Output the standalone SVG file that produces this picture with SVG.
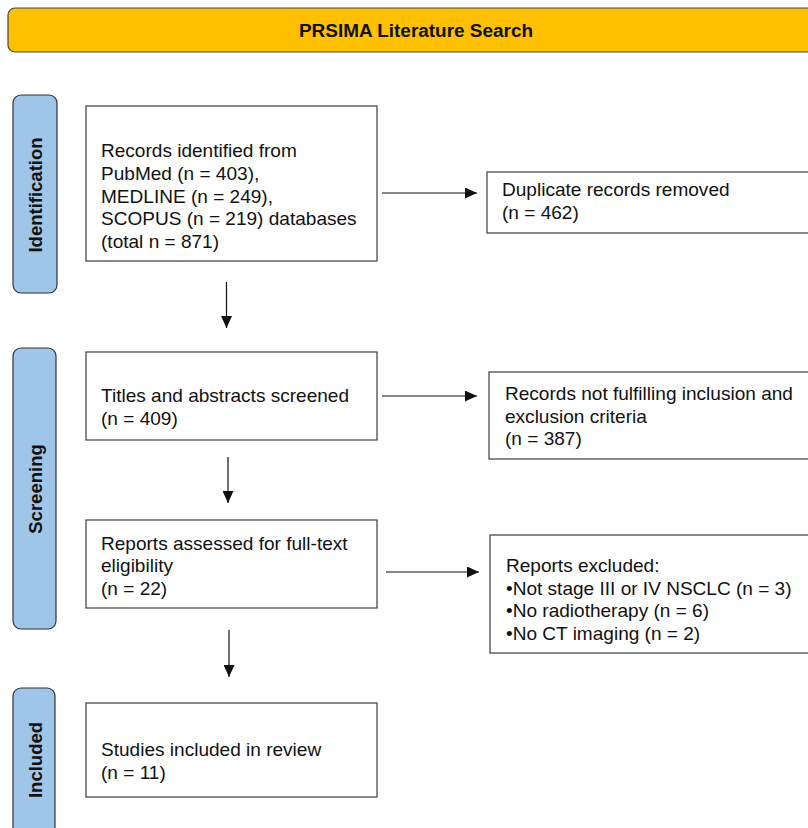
<svg xmlns="http://www.w3.org/2000/svg" width="808" height="828" viewBox="0 0 808 828">
<defs>
<style>
.box{fill:#ffffff;stroke:#4a4a4a;stroke-width:1.3}
.side{fill:#9fc5e8;stroke:#333333;stroke-width:1.2}
.t{font-family:"Liberation Sans",Arial,sans-serif;font-size:17.7px;fill:#111111}
.tt{font-family:"Liberation Sans",Arial,sans-serif;font-size:18.5px;font-weight:bold;fill:#111111;text-anchor:middle}
.sl{font-family:"Liberation Sans",Arial,sans-serif;font-size:18.5px;font-weight:bold;fill:#111111;text-anchor:middle}
.conn{stroke:#111111;stroke-width:1.2;fill:none}
</style>
<marker id="ah" markerUnits="userSpaceOnUse" viewBox="0 0 12 11" refX="12" refY="5.5" markerWidth="12" markerHeight="11" orient="auto">
<path d="M0,0 L12,5.5 L0,11 Z" fill="#111111"/>
</marker>
</defs>
<rect width="808" height="828" fill="#ffffff"/>

<g id="title">
<rect x="8" y="8" width="830" height="44" rx="7" fill="#ffc000" stroke="#444444" stroke-width="1.2"/>
<text class="tt" transform="translate(416 0) scale(1.025 1)" x="0" y="36.7">PRSIMA Literature Search</text>
</g>

<g id="phase-identification">
<rect class="side" x="13" y="95" width="44" height="198" rx="8"/>
<text class="sl" transform="translate(42 195) rotate(-90)" x="0" y="0">Identification</text>
</g>
<g id="phase-screening">
<rect class="side" x="13" y="348" width="43" height="281" rx="8"/>
<text class="sl" transform="translate(42 489) rotate(-90)" x="0" y="0">Screening</text>
</g>
<g id="phase-included">
<rect class="side" x="13" y="688" width="42" height="170" rx="8"/>
<text class="sl" transform="translate(42 760) rotate(-90)" x="0" y="0">Included</text>
</g>

<g id="records-identified">
<rect class="box" x="86" y="106" width="291" height="155"/>
<text class="t" transform="translate(101 0) scale(1.077 1)">
<tspan x="0" y="157">Records identified from</tspan>
<tspan x="0" y="180">PubMed (n = 403),</tspan>
<tspan x="0" y="203">MEDLINE (n = 249),</tspan>
<tspan x="0" y="225.5">SCOPUS (n = 219) databases</tspan>
<tspan x="0" y="248">(total n = 871)</tspan>
</text>
</g>

<g id="duplicates-removed">
<rect class="box" x="487" y="172" width="340" height="61"/>
<text class="t" transform="translate(502 0) scale(1.077 1)">
<tspan x="0" y="196.5">Duplicate records removed</tspan>
<tspan x="0" y="219">(n = 462)</tspan>
</text>
</g>

<g id="titles-screened">
<rect class="box" x="86" y="352" width="291" height="88"/>
<text class="t" transform="translate(101 0) scale(1.077 1)">
<tspan x="0" y="402">Titles and abstracts screened</tspan>
<tspan x="0" y="425">(n = 409)</tspan>
</text>
</g>

<g id="records-not-fulfilling">
<rect class="box" x="489" y="372" width="340" height="87"/>
<text class="t" transform="translate(505 0) scale(1.077 1)">
<tspan x="0" y="400.5">Records not fulfilling inclusion and</tspan>
<tspan x="0" y="423">exclusion criteria</tspan>
<tspan x="0" y="445.5">(n = 387)</tspan>
</text>
</g>

<g id="reports-assessed">
<rect class="box" x="86" y="520" width="291" height="88"/>
<text class="t" transform="translate(101 0) scale(1.077 1)">
<tspan x="0" y="550">Reports assessed for full-text</tspan>
<tspan x="0" y="572.5">eligibility</tspan>
<tspan x="0" y="595">(n = 22)</tspan>
</text>
</g>

<g id="reports-excluded">
<rect class="box" x="490" y="535" width="340" height="118"/>
<text class="t" transform="translate(506 0) scale(1.077 1)">
<tspan x="0" y="572">Reports excluded:</tspan>
<tspan x="0" y="595">•Not stage III or IV NSCLC (n = 3)</tspan>
<tspan x="0" y="617.5">•No radiotherapy (n = 6)</tspan>
<tspan x="0" y="640">•No CT imaging (n = 2)</tspan>
</text>
</g>

<g id="studies-included">
<rect class="box" x="86" y="703" width="291" height="94"/>
<text class="t" transform="translate(101 0) scale(1.077 1)">
<tspan x="0" y="756.5">Studies included in review</tspan>
<tspan x="0" y="779">(n = 11)</tspan>
</text>
</g>

<g id="connectors">
<line class="conn" x1="382" y1="193" x2="477" y2="193" marker-end="url(#ah)"/>
<line class="conn" x1="382" y1="396" x2="477" y2="396" marker-end="url(#ah)"/>
<line class="conn" x1="386" y1="572" x2="479" y2="572" marker-end="url(#ah)"/>
<line class="conn" x1="226.5" y1="282" x2="226.5" y2="328" marker-end="url(#ah)"/>
<line class="conn" x1="228" y1="457" x2="228" y2="503" marker-end="url(#ah)"/>
<line class="conn" x1="229" y1="630" x2="229" y2="677" marker-end="url(#ah)"/>
</g>
</svg>
